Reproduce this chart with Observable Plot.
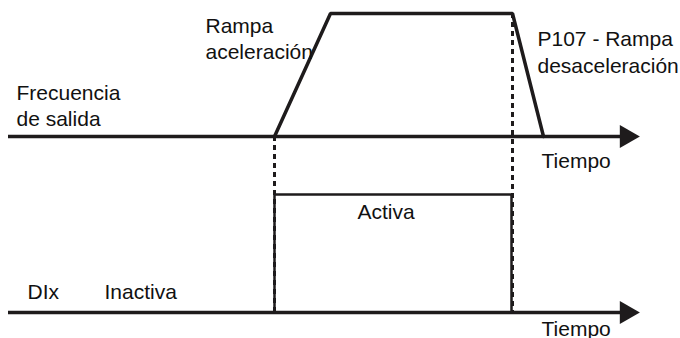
<!DOCTYPE html>
<html>
<head>
<meta charset="utf-8">
<script src="https://cdn.jsdelivr.net/npm/d3@7"></script>
<script src="https://cdn.jsdelivr.net/npm/@observablehq/plot@0.6"></script>
<style>
  html, body { margin: 0; padding: 0; background: #fff; }
  #chart svg { display: block; }
</style>
</head>
<body>
<div id="chart"></div>
<script>
// Timing data (time units along the horizontal axis)
const freqTimes  = [274, 330, 512, 543];   // start accel, reach top, start decel, stop
const freqLevels = [0, 1, 1, 0];           // relative output frequency
const dixTimes   = [274, 274, 511, 511];   // digital input edges
const dixLevels  = [0, 1, 1, 0];           // 0 = Inactiva, 1 = Activa
const edgeTimes  = [274, 512];             // dotted guide lines
const axisSpan   = [8, 626];               // time axis start / arrow position

// Texts
const labelTexts = ["Rampa", "aceleración", "P107 - Rampa", "desaceleración",
                    "Frecuencia", "de salida", "Tiempo", "Activa", "DIx", "Inactiva", "Tiempo"];

// Layout (pixel geometry of the two panels)
const topBase = 136, topHigh = 13;
const botBase = 312, botHigh = 194;
const yTop = v => topBase - v * (topBase - topHigh);
const yBot = v => botBase - v * (botBase - botHigh);

const ink = "#1e1b1c";

const freq = freqTimes.map((t, i) => ({t, y: yTop(freqLevels[i])}));
const dix  = dixTimes.map((t, i) => ({t, y: yBot(dixLevels[i])}));
const axes = [
  {t1: axisSpan[0], t2: axisSpan[1], y: topBase},
  {t1: axisSpan[0], t2: axisSpan[1], y: botBase}
];
const guides = [
  {t: edgeTimes[0], y1: topBase, y2: botBase},
  {t: edgeTimes[1], y1: topHigh, y2: botBase}
];
const labelPos = [
  [205, 32], [205, 58], [537, 45], [537, 72],
  [16, 99], [16, 125], [541, 167], [357, 218],
  [27, 298], [104, 298], [541, 335]
];
const labels = labelTexts.map((text, i) => ({text, x: labelPos[i][0], y: labelPos[i][1]}));

const chart = Plot.plot({
  width: 680,
  height: 338,
  margin: 0,
  x: {domain: [0, 680], range: [0, 680], axis: null},
  y: {domain: [0, 338], range: [0, 338], axis: null},
  style: {background: "#fff", fontFamily: "'Liberation Sans', Arial, sans-serif"},
  marks: [
    // dotted guides
    Plot.ruleX(guides, {x: "t", y1: "y1", y2: "y2", stroke: ink, strokeWidth: 3, strokeDasharray: "5,4"}),
    // axes
    Plot.ruleY(axes, {y: "y", x1: "t1", x2: "t2", stroke: ink, strokeWidth: 3.5}),
    Plot.dot(axes, {x: "t2", y: "y", symbol: "triangle", r: 8.6, rotate: 90, fill: ink, stroke: "none"}),
    // frequency trapezoid
    Plot.line(freq, {x: "t", y: "y", stroke: ink, strokeWidth: 3.5, strokeLinejoin: "miter"}),
    // digital input pulse
    Plot.line(dix, {x: "t", y: "y", stroke: ink, strokeWidth: 2.5, strokeLinejoin: "miter"}),
    // labels
    Plot.text(labels, {x: "x", y: "y", text: "text", textAnchor: "start", lineAnchor: "bottom",
      fontSize: 21, fill: "#111"})
  ]
});
document.getElementById("chart").append(chart);
</script>
</body>
</html>
